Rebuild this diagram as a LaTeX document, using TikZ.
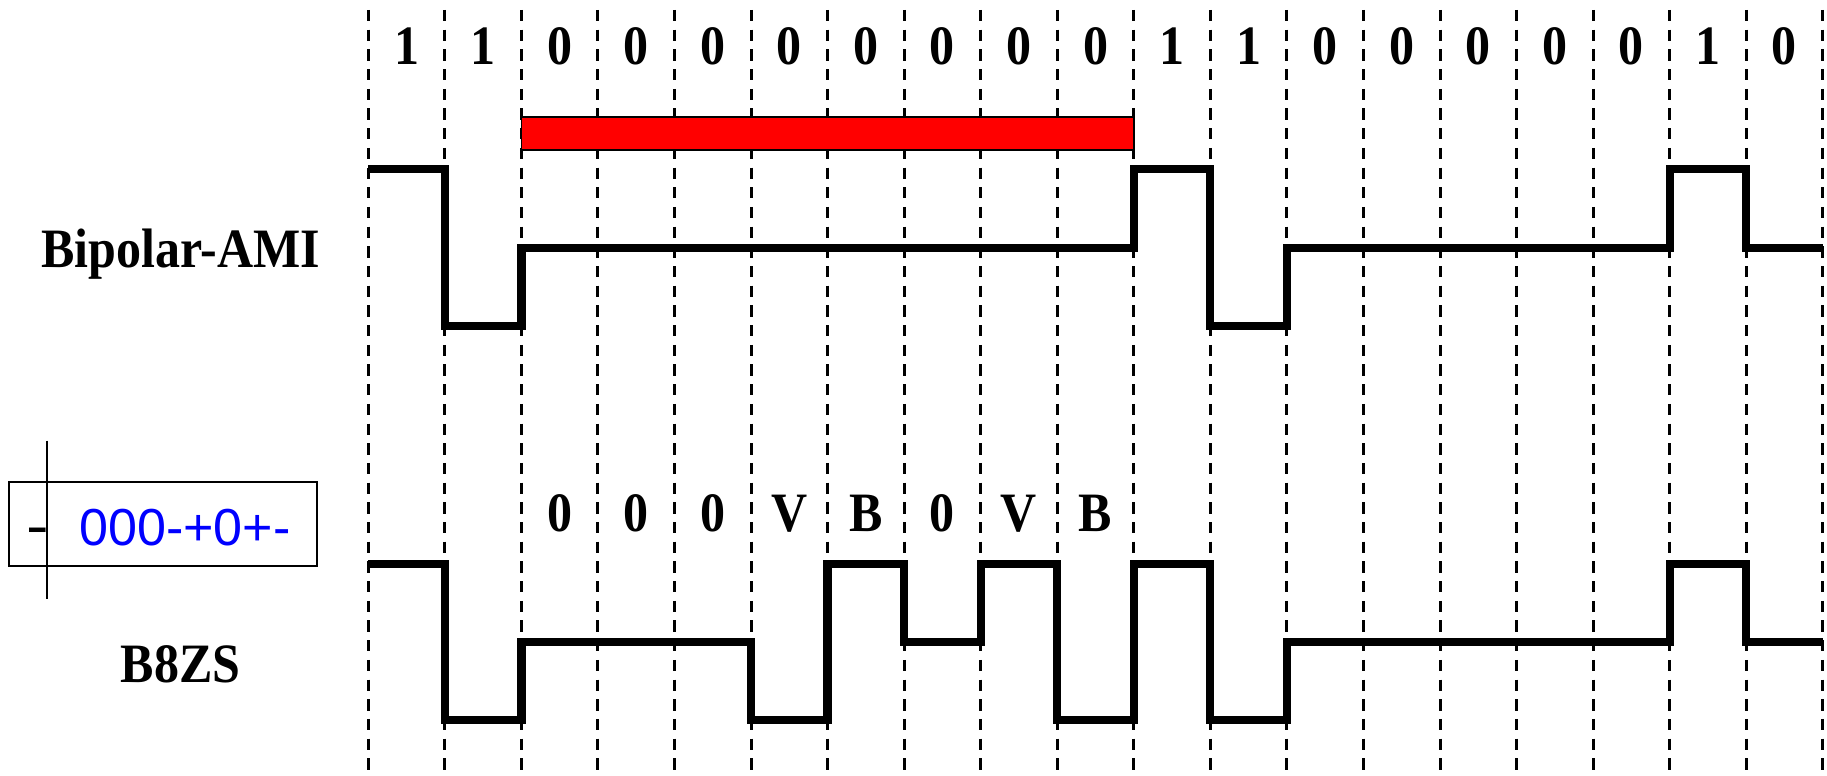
\documentclass[tikz,border=0pt]{standalone}
\usepackage{fontspec}
\newfontfamily\lblfont[FakeStretch=0.9]{Liberation Serif}
\newfontfamily\boxfont{Liberation Sans}
\begin{document}
\begin{tikzpicture}[x=0.01cm,y=-0.01cm,
  grid/.style={line width=0.85pt,dash pattern=on 3.2pt off 2.4pt},
  wave/.style={line width=2.35pt,line join=miter},
  bit/.style={anchor=base,inner sep=0pt,font=\lblfont\bfseries\fontsize{15.8}{18}\selectfont},
  sig/.style={anchor=base,inner sep=0pt,font=\lblfont\bfseries\fontsize{15.8}{18}\selectfont},
  codebox/.style={draw,line width=0.6pt}]
\useasboundingbox (0,0) rectangle (1827,776);
% grid lines
\foreach \k in {0,...,19}{
  \coordinate (T\k) at ({368.3+76.55*\k},10);
  \coordinate (B\k) at ({368.3+76.55*\k},776);
  \draw[grid] (T\k) -- (B\k);
}
% bit labels
\foreach \b [count=\i from 0] in {1,1,0,0,0,0,0,0,0,0,1,1,0,0,0,0,0,1,0}{
  \node[bit] (bit\i) at ({368.3+76.55*\i+38.27},65) {\b};
}
% red bar
\draw[fill=red,line width=0.5pt] (521.4,117) rectangle (1133.8,150);
% signal names
\node[sig] (ami) at (180.5,268) {Bipolar-AMI};
\node[sig] (b8zs) at (180.5,682) {B8ZS};
% B8ZS substitution labels
\foreach \b [count=\i from 2] in {0,0,0,V,B,0,V,B}{
  \node[bit] (sub\i) at ({368.3+76.55*\i+38.27},531) {\b};
}
% AMI waveform
\draw[wave] (368.3,169) -| (444.85,326) -| (521.4,248) -| (1133.8,169)
  -| (1210.35,326) -| (1286.9,248) -| (1669.65,169) -| (1746.2,248) -- (1822.75,248);
% B8ZS waveform
\draw[wave] (368.3,564) -| (444.85,720) -| (521.4,642) -| (751.05,720)
  -| (827.6,564) -| (904.15,642) -| (980.7,564) -| (1057.25,720)
  -| (1133.8,564) -| (1210.35,720) -| (1286.9,642) -| (1669.65,564)
  -| (1746.2,642) -- (1822.75,642);
% code box
\draw[codebox] (9,481.7) rectangle (317,565.7);
\coordinate (vt) at (46.7,440.7);
\coordinate (vb) at (46.7,599);
\draw[line width=0.6pt] (vt) -- (vb);
\node[anchor=base,inner sep=0pt,font=\boxfont\fontsize{14.8}{17}\selectfont] (minus) at (37.5,545) {\scalebox{1.3}[1.1]{-}};
\node[anchor=base,inner sep=0pt,text=blue,font=\boxfont\fontsize{14.8}{17}\selectfont] (code) at (185,545) {000-+0+-};
\end{tikzpicture}
\end{document}
